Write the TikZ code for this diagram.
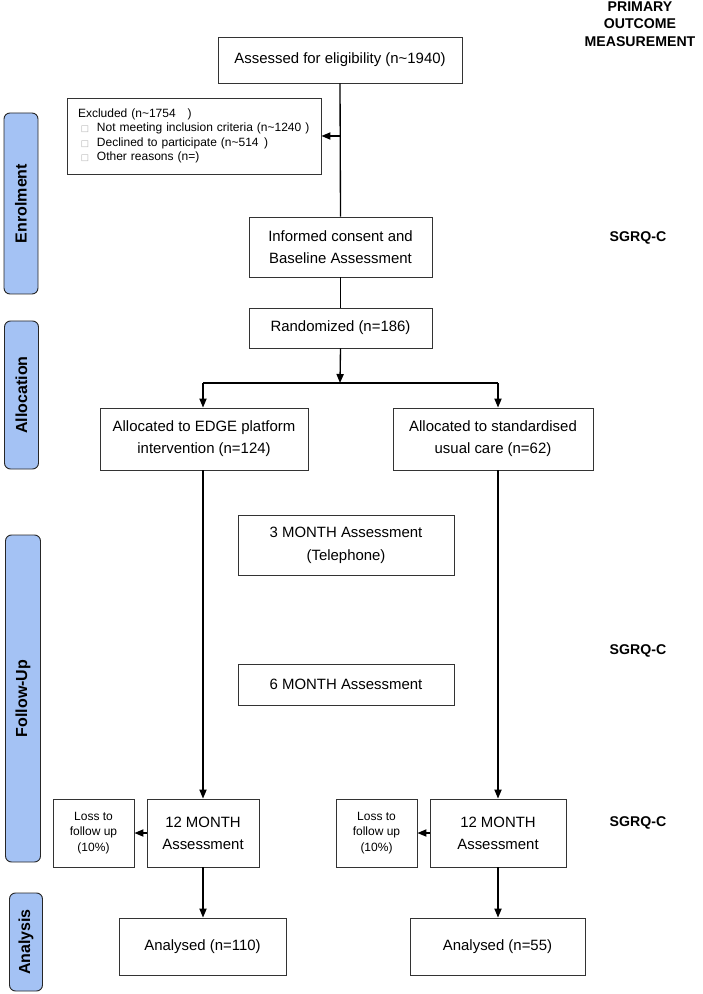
\documentclass[tikz,border=0pt]{standalone}
\usepackage{fontspec}
\setmainfont{Liberation Sans}
\newfontfamily\dejavu{DejaVu Sans}
\usetikzlibrary{arrows.meta}
\definecolor{barblue}{HTML}{A4C2F4}
\definecolor{boxline}{HTML}{333333}
\newcommand{\sqbul}{\makebox[14.2pt][l]{\hspace{2.2pt}\textcolor{black!30}{\fontsize{6.5}{6}\selectfont\dejavu □}}}
\begin{document}
\begin{tikzpicture}[x=0.75pt,y=-0.75pt,
  wh/.style 2 args={minimum width=#1*0.75pt, minimum height=#2*0.75pt},
  fbox/.style={draw=boxline, line width=0.7pt, fill=white, align=center, inner sep=0pt,
    font=\fontsize{11.2}{16.5}\selectfont},
  sbox/.style={fbox, font=\fontsize{9}{11.5}\selectfont},
  bar/.style={draw=black!85, line width=0.7pt, fill=barblue, rounded corners=4.5pt, inner sep=0pt},
  bartext/.style={rotate=90, font=\fontsize{12}{14}\selectfont\bfseries},
  rlabel/.style={font=\fontsize{10.6}{13.2}\selectfont\bfseries, align=center},
  conn/.style={draw=black, line width=1pt},
  arr/.style={conn, -{Triangle[length=6.75pt,width=5.4pt]}}]
\useasboundingbox (0,0) rectangle (702,994);

% side bars
\node[bar, wh={34}{181}] (barEn) at (21,203.5) {};
\node[bartext] (tEn) at (barEn.center) {Enrolment};
\node[bar, wh={34}{148}] (barAl) at (21.5,395) {};
\node[bartext] (tAl) at (barAl.center) {Allocation};
\node[bar, wh={35}{327}] (barFu) at (23,698.5) {};
\node[bartext] (tFu) at (barFu.center) {Follow-Up};
\node[bar, wh={33}{98}] (barAn) at (26,942) {};
\node[bartext] (tAn) at (barAn.center) {Analysis};

% right labels
\node[rlabel] (prim) at (640,24) {PRIMARY\\OUTCOME\\MEASUREMENT};
\node[rlabel] (sg1) at (638,238) {SGRQ-C};
\node[rlabel] (sg2) at (638,651) {SGRQ-C};
\node[rlabel] (sg3) at (638,823) {SGRQ-C};

% boxes
\node[fbox, wh={244}{46}] (assess) at (340,60) {Assessed for eligibility (n\textasciitilde 1940)};
\node[sbox, wh={254}{76}, align=left, text width=232*0.75pt, font=\fontsize{9}{10.8}\selectfont] (excl) at (194,136)
  {Excluded (n\textasciitilde 1754\hspace{9pt})\\
   \sqbul Not meeting inclusion criteria (n\textasciitilde 1240 )\\
   \sqbul Declined to participate (n\textasciitilde 514\hspace{4pt})\\
   \sqbul Other reasons (n=)};
\node[fbox, wh={183}{60}] (informed) at (340.5,247) {Informed consent and\\Baseline Assessment};
\node[fbox, wh={183}{40}] (rand) at (340.5,328) {Randomized (n=186)};
\node[fbox, wh={208}{62}] (allocL) at (204,439) {Allocated to EDGE platform\\intervention (n=124)};
\node[fbox, wh={200}{62}] (allocR) at (493,439) {Allocated to standardised\\usual care (n=62)};
\node[fbox, wh={216}{60}, font=\fontsize{11.2}{17}\selectfont] (m3) at (346,545) {3 MONTH Assessment\\(Telephone)};
\node[fbox, wh={216}{41}] (m6) at (346,684.5) {6 MONTH Assessment};
\node[sbox, wh={81}{68}] (lossL) at (93.5,833) {Loss to\\follow up\\(10\%)};
\node[fbox, wh={112}{68}] (m12L) at (203,833) {12 MONTH\\Assessment};
\node[sbox, wh={81}{68}] (lossR) at (376.5,833) {Loss to\\follow up\\(10\%)};
\node[fbox, wh={136}{68}] (m12R) at (498,833) {12 MONTH\\Assessment};
\node[fbox, wh={167}{57}] (anL) at (202.5,946.5) {Analysed (n=110)};
\node[fbox, wh={175}{57}] (anR) at (497.5,946.5) {Analysed (n=55)};

% connectors
\coordinate (split) at (340,383);
\draw[conn] (assess.south) -- (informed.north);
\draw[arr] (excl.east -| assess.south) -- (excl.east);
\draw[conn] (informed.south) -- (rand.north);
\draw[arr] (rand.south) -- (split);
\draw[conn] (m12L.north |- split) -- (m12R.north |- split);
\draw[arr] (m12L.north |- split) -- (m12L.north |- allocL.north);
\draw[arr] (m12R.north |- split) -- (m12R.north |- allocR.north);
\draw[arr] (m12L.north |- allocL.south) -- (m12L.north);
\draw[arr] (m12R.north |- allocR.south) -- (m12R.north);
\draw[arr] (m12L.west) -- (lossL.east);
\draw[arr] (m12R.west) -- (lossR.east);
\draw[arr] (m12L.south) -- (m12L.south |- anL.north);
\draw[arr] (m12R.south) -- (m12R.south |- anR.north);
\end{tikzpicture}
\end{document}
